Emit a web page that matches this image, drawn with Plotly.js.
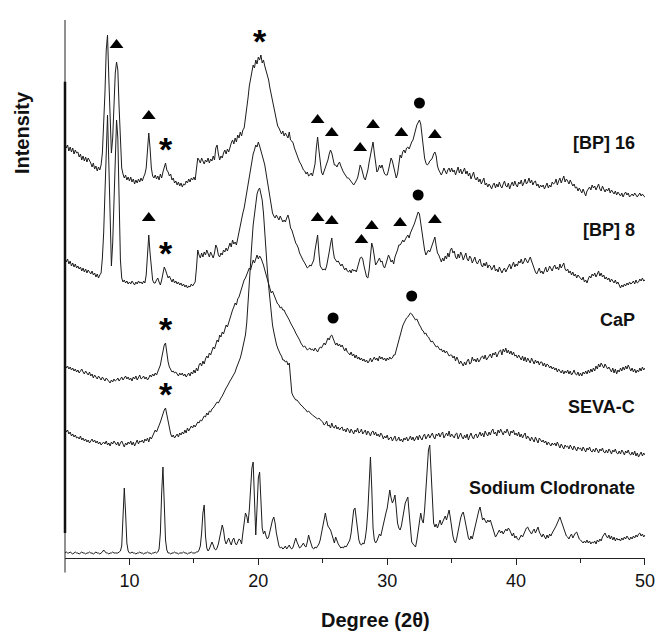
<!DOCTYPE html>
<html>
<head>
<meta charset="utf-8">
<script src="https://cdn.plot.ly/plotly-3.0.1.min.js"></script>
<style>
  html, body { margin: 0; padding: 0; background: #fff; }
  #chart { width: 655px; height: 634px; }
</style>
</head>
<body>
<div id="chart"></div>
<script>
// XRD patterns, 2θ scan from 5° to 50° in 0.1° steps (intensity in a.u.)
const TWO_THETA_START = 5;
const TWO_THETA_STEP = 0.1;

const sampleNames = ['[BP] 16', '[BP] 8', 'CaP', 'SEVA-C', 'Sodium Clodronate'];
// vertical stacking offset of each pattern (a.u.)
const stackOffsets = [360, 270, 175, 100, 0];

const bp16 = [
  55,50,53,47,51,46,50,44,48,45,
  46,41,44,38,42,37,41,36,40,38,
  35,31,35,29,32,27,31,28,33,45,
  70,105,148,163,120,70,45,60,95,125,
  136,128,90,50,30,24,20,23,18,21,
  17,21,16,19,14,18,15,19,16,20,
  17,21,24,30,45,65,50,30,22,20,
  23,19,22,18,24,20,26,30,35,28,
  26,22,24,18,20,15,17,13,16,12,
  15,11,14,13,17,15,19,16,20,18,
  21,18,28,40,38,35,40,37,34,38,
  36,40,35,39,37,42,38,50,53,44,
  38,42,40,45,48,44,49,46,52,55,
  58,54,60,56,63,60,66,62,68,70,
  80,88,100,112,120,126,133,130,138,134,
  141,138,143,135,138,132,128,124,118,110,
  103,96,90,82,75,72,70,66,64,67,
  62,65,63,60,66,58,57,55,50,46,
  43,40,36,34,30,28,27,24,26,22,
  23,25,22,28,34,50,61,48,33,26,
  23,27,30,33,38,44,48,45,38,33,
  33,31,34,36,32,28,26,24,22,20,
  20,18,16,15,13,15,18,20,26,33,
  30,24,20,18,22,28,36,44,50,56,
  45,32,26,28,33,30,33,28,24,23,
  23,28,34,40,37,30,25,20,24,35,
  43,40,46,48,45,50,51,49,53,56,
  58,62,68,73,75,78,74,63,50,40,
  35,33,34,37,38,40,44,46,42,32,
  28,25,23,26,30,27,24,28,30,26,
  30,26,28,23,27,31,25,29,24,27,
  30,24,27,22,25,19,23,26,20,18,
  21,16,19,14,17,20,13,15,11,14,
  12,9,13,15,10,14,11,16,12,10,
  14,17,12,11,15,9,13,16,12,17,
  13,11,16,14,18,12,15,19,14,16,
  20,15,18,13,16,17,12,14,10,13,
  11,13,9,12,15,10,13,11,16,14,
  15,19,13,17,20,15,18,22,16,19,
  17,14,18,15,12,14,10,11,7,10,
  8,5,9,4,2,7,9,11,8,13,
  10,12,8,11,14,9,7,12,9,6,
  9,7,10,5,8,6,4,7,3,6,
  4,2,5,1,4,6,3,5,1,3,
  4,2,5,3,1,3,5,2,4,2,
  1
];

const bp8 = [
  30,26,29,24,27,22,25,21,24,20,
  22,19,21,17,20,16,19,15,18,16,
  14,17,13,15,11,14,10,13,15,30,
  55,95,145,173,125,60,22,45,95,145,
  168,150,88,28,10,6,8,5,7,4,
  6,4,7,5,3,6,4,7,5,6,
  4,7,5,13,30,53,35,16,8,5,
  5,8,10,6,3,8,14,21,18,13,
  10,12,8,6,9,5,7,4,6,3,
  5,2,4,1,3,0,2,1,4,2,
  4,6,20,38,33,30,35,31,36,33,
  38,34,31,36,33,30,35,43,40,33,
  31,35,33,38,36,40,37,42,45,41,
  48,44,46,43,50,55,63,68,75,80,
  88,95,103,112,120,128,134,138,143,141,
  146,142,138,133,128,123,115,108,98,90,
  82,75,72,70,73,70,68,72,69,66,
  68,66,70,73,68,60,58,54,48,45,
  43,40,35,32,30,27,25,22,20,21,
  23,22,25,28,38,48,53,35,22,20,
  18,19,18,22,28,36,44,50,38,30,
  28,26,27,25,22,24,20,18,20,17,
  16,18,15,19,17,18,16,20,24,30,
  31,29,22,15,11,10,18,32,45,40,
  30,23,25,28,30,26,27,22,20,24,
  28,33,30,26,28,24,31,34,38,43,
  43,45,48,46,49,51,53,50,55,58,
  60,64,68,72,76,74,65,55,45,38,
  33,35,38,36,40,44,48,51,42,35,
  33,28,26,30,27,32,29,35,31,38,
  40,35,37,31,29,34,30,36,33,28,
  31,35,29,27,32,30,25,28,31,26,
  24,27,29,23,21,25,22,26,20,23,
  22,18,20,23,17,19,16,21,18,15,
  18,20,16,19,22,24,19,23,26,21,
  24,22,27,25,29,24,26,30,27,25,
  28,31,27,23,19,16,14,17,20,15,
  17,14,19,21,16,18,22,19,17,21,
  23,19,21,18,24,20,22,25,19,17,
  19,15,17,13,16,12,14,10,13,11,
  10,8,11,6,8,5,9,12,10,14,
  12,15,11,14,17,12,15,11,13,9,
  11,8,10,6,9,7,5,8,4,6,
  2,0,3,1,4,2,5,3,6,4,
  5,7,4,8,5,6,9,7,10,7,
  8
];

const cap = [
  18,15,17,14,16,13,15,12,14,11,
  13,10,12,14,11,9,12,10,8,11,
  7,9,5,8,6,4,7,5,3,6,
  4,2,5,3,1,0,3,1,4,2,
  3,5,2,4,6,3,5,7,4,6,
  3,5,2,6,4,7,3,5,8,4,
  5,7,4,6,3,5,8,6,9,7,
  10,8,12,14,18,25,32,38,40,30,
  21,16,13,11,12,10,11,9,7,10,
  8,10,7,9,6,8,10,7,11,9,
  13,10,15,12,18,20,17,22,19,24,
  27,25,30,28,33,36,34,39,43,41,
  48,46,51,49,55,58,56,61,65,70,
  73,76,80,78,84,86,90,95,100,103,
  105,108,112,115,113,118,123,120,125,128,
  124,127,125,122,118,113,108,103,98,95,
  90,92,88,85,82,79,78,75,76,73,
  73,70,68,66,63,60,58,56,53,50,
  48,45,43,40,38,36,37,35,33,34,
  35,33,34,32,35,33,31,34,36,35,
  38,40,38,42,45,43,47,48,45,42,
  38,40,37,39,36,38,34,32,35,31,
  30,28,31,27,29,25,28,24,26,23,
  25,22,24,21,23,20,22,25,21,23,
  26,23,25,22,27,24,26,23,25,22,
  25,23,26,24,25,28,28,33,38,44,
  50,53,57,60,63,65,66,68,70,69,
  67,66,63,64,60,58,56,53,52,49,
  50,47,46,44,41,42,40,38,36,37,
  35,33,34,31,33,30,32,29,27,28,
  28,25,27,22,26,23,19,22,20,17,
  21,18,22,24,19,20,26,22,24,21,
  25,21,23,26,27,24,28,23,25,27,
  29,25,30,28,31,26,29,32,33,28,
  34,31,35,30,33,29,32,28,31,27,
  28,25,28,26,23,27,22,26,21,25,
  23,20,25,22,19,23,20,22,18,21,
  21,17,20,16,19,18,15,17,14,16,
  13,15,11,14,12,10,13,9,12,10,
  13,9,12,8,10,13,9,8,11,7,
  10,7,11,9,12,9,13,10,14,11,
  15,12,17,14,19,16,20,17,15,19,
  17,14,16,13,11,15,10,14,9,13,
  11,15,12,16,13,17,14,18,15,12,
  15,11,14,10,13,11,15,12,16,13,
  15
];

const sevaC = [
  30,26,28,24,26,22,24,21,23,20,
  21,19,22,18,20,17,19,16,18,15,
  17,19,16,18,15,17,14,16,13,15,
  16,14,17,13,15,12,16,14,17,15,
  13,16,12,15,17,14,11,15,13,16,
  14,17,13,16,12,15,18,14,17,16,
  18,15,19,17,20,16,21,19,22,25,
  28,26,29,32,36,40,45,48,50,43,
  35,28,24,21,23,20,22,24,21,25,
  23,26,24,28,25,30,27,29,32,30,
  33,31,34,36,35,38,37,40,42,41,
  45,43,47,46,49,50,52,54,56,55,
  58,60,62,65,67,70,72,75,77,79,
  81,83,86,90,93,97,100,105,112,118,
  123,135,158,180,198,215,233,245,258,264,
  268,270,264,258,245,223,205,188,172,158,
  145,133,126,118,114,110,106,104,102,98,
  98,96,97,93,95,80,65,62,60,58,
  58,56,55,53,52,50,49,48,46,47,
  45,44,43,42,41,40,39,40,38,37,
  36,33,34,37,32,33,30,35,31,30,
  33,29,31,28,30,31,27,29,26,30,
  28,25,29,27,24,28,26,30,25,26,
  29,24,26,28,23,27,25,22,26,27,
  23,26,22,24,21,25,23,19,22,20,
  23,18,20,21,17,19,22,17,18,21,
  17,19,16,20,18,21,17,19,22,18,
  21,17,19,22,18,23,20,18,22,24,
  19,22,24,20,23,25,21,19,24,22,
  25,21,24,26,20,23,25,22,27,21,
  24,22,20,24,25,19,22,25,21,19,
  23,20,24,18,22,25,21,19,23,24,
  20,24,26,22,25,21,27,24,22,26,
  23,27,29,24,26,22,28,25,29,26,
  23,27,25,29,24,22,27,25,28,23,
  25,22,26,21,24,20,23,25,19,22,
  20,17,21,19,16,21,18,15,20,18,
  16,18,15,17,13,16,14,12,15,13,
  15,12,16,13,10,14,12,9,13,11,
  12,9,13,10,8,12,9,7,11,9,
  10,7,11,9,6,10,8,11,7,6,
  9,6,10,8,5,9,7,10,6,5,
  8,5,9,7,4,8,6,9,5,4,
  7,4,8,6,3,7,5,8,4,3,
  6,3,7,2,5,1,4,6,2,5,
  3
];

const clodronate = [
  5,6,5,5,6,5,4,5,6,5,
  5,4,5,6,5,5,4,5,5,6,
  5,5,4,5,6,5,5,4,5,6,
  8,6,5,5,4,5,5,6,5,5,
  5,5,6,7,12,35,70,45,15,7,
  5,5,6,5,5,4,5,5,6,5,
  5,4,5,5,6,5,5,4,5,5,
  6,5,6,9,25,65,91,55,18,8,
  5,5,4,5,5,6,5,5,4,5,
  5,5,6,5,5,4,5,5,6,5,
  5,5,6,6,8,12,25,45,53,22,
  10,7,9,12,16,13,9,8,10,14,
  20,26,33,28,18,14,17,20,16,13,
  18,20,15,13,16,19,18,14,25,38,
  45,42,35,48,72,90,96,50,23,50,
  80,86,60,30,24,27,22,19,21,28,
  35,38,41,35,25,16,12,10,11,9,
  10,12,9,11,13,10,9,11,15,20,
  16,12,10,11,13,15,12,11,16,23,
  18,13,10,9,11,10,12,14,18,25,
  32,40,45,38,32,30,28,24,18,15,
  21,17,14,12,10,11,10,12,11,13,
  15,18,25,38,48,50,40,25,18,14,
  13,15,14,20,30,48,80,101,70,30,
  18,15,17,20,24,22,28,35,42,45,
  50,58,68,60,55,58,63,50,35,30,
  28,32,40,48,55,58,61,45,28,16,
  14,12,11,18,28,38,45,38,35,48,
  70,92,108,113,88,50,35,31,34,30,
  35,38,33,36,40,42,38,45,48,40,
  30,22,17,15,20,28,35,40,44,46,
  40,32,25,20,18,22,19,25,30,35,
  40,47,51,45,38,40,37,35,38,36,
  38,33,28,24,21,23,26,28,25,27,
  24,26,29,27,30,28,24,22,25,20,
  22,19,18,20,23,21,25,27,30,31,
  28,26,24,27,29,25,28,31,26,23,
  21,24,22,19,23,20,24,22,25,27,
  29,32,35,38,41,37,33,29,25,22,
  21,19,22,24,20,23,25,26,22,19,
  18,16,15,17,15,18,15,17,14,16,
  15,17,14,18,16,19,17,21,23,25,
  22,20,23,19,22,18,21,17,20,18,
  19,17,20,18,21,19,22,20,18,21,
  19,22,20,23,21,24,25,22,24,21,
  23
];

const patterns = [bp16, bp8, cap, sevaC, clodronate];

// Phase markers: index of the pattern and 2θ position of the reflection
const trianglePattern = [0, 0, 0, 0, 0, 0, 0, 0, 0, 1, 1, 1, 1, 1, 1, 1];
const triangleTheta   = [8.3, 9.0, 11.5, 24.6, 25.7, 27.9, 28.9, 31.1, 33.7,
                         11.5, 24.6, 25.7, 28.0, 28.8, 31.0, 33.7];
const asteriskPattern = [0, 0, 1, 2, 3];
const asteriskTheta   = [12.8, 20.1, 12.8, 12.8, 12.8];
const circlePattern   = [0, 1, 2, 2];
const circleTheta     = [32.5, 32.4, 25.8, 31.9];

const xTicks = [10, 20, 30, 40, 50];

const FONT = 'Arial, "Liberation Sans", Helvetica, sans-serif';
const INK = '#1c1c1c';

const twoTheta = bp16.map((_, i) => +(TWO_THETA_START + i * TWO_THETA_STEP).toFixed(1));

// top of a pattern near a given 2θ, in stacked units
function peakTop(p, theta) {
  let best = -Infinity;
  twoTheta.forEach((t, i) => {
    if (Math.abs(t - theta) <= 0.2001) best = Math.max(best, patterns[p][i]);
  });
  return stackOffsets[p] + best;
}

const traces = patterns.map((vals, p) => ({
  type: 'scatter',
  mode: 'lines',
  name: sampleNames[p],
  x: twoTheta,
  y: vals.map(v => v + stackOffsets[p]),
  line: { color: INK, width: 1 },
  hoverinfo: 'skip'
}));

const MARK_GAP = 17;
traces.push({
  type: 'scatter', mode: 'markers', cliponaxis: false, hoverinfo: 'skip',
  x: triangleTheta,
  y: triangleTheta.map((t, k) => peakTop(trianglePattern[k], t) + MARK_GAP),
  marker: { symbol: 'triangle-up', size: 12, color: '#000' }
});
traces.push({
  type: 'scatter', mode: 'markers', cliponaxis: false, hoverinfo: 'skip',
  x: circleTheta,
  y: circleTheta.map((t, k) => peakTop(circlePattern[k], t) + MARK_GAP),
  marker: { symbol: 'circle', size: 11, color: '#000' }
});
traces.push({
  type: 'scatter', mode: 'text', cliponaxis: false, hoverinfo: 'skip',
  x: asteriskTheta,
  y: asteriskTheta.map((t, k) => peakTop(asteriskPattern[k], t) + MARK_GAP - 6),
  text: asteriskTheta.map(() => '*'),
  textposition: 'middle center',
  textfont: { family: FONT, size: 34, color: '#000', weight: 'bold' }
});

// sample labels at the right end of each pattern
const labelY = [415, 328, 238, 151, 70];
const annotations = sampleNames.map((name, p) => ({
  xref: 'paper', yref: 'y', x: 0.986, y: labelY[p],
  xanchor: 'right', yanchor: 'middle', showarrow: false,
  text: '<b>' + name + '</b>',
  font: { family: FONT, size: 18, color: '#111' }
}));
annotations.push({
  xref: 'paper', yref: 'y', x: -0.074, y: 425,
  xanchor: 'center', yanchor: 'middle', showarrow: false, textangle: -90,
  text: '<b>Intensity</b>',
  font: { family: FONT, size: 20, color: '#111' }
});
annotations.push({
  xref: 'paper', yref: 'paper', x: 0.535, y: -0.115,
  xanchor: 'center', yanchor: 'middle', showarrow: false,
  text: '<b>Degree (2θ)</b>',
  font: { family: FONT, size: 20, color: '#111' }
});

const layout = {
  width: 655, height: 634,
  margin: { l: 65, r: 10, t: 20, b: 76 },
  paper_bgcolor: '#fff', plot_bgcolor: '#fff',
  showlegend: false,
  xaxis: {
    range: [5, 50.001], showgrid: false, zeroline: false,
    showline: true, linecolor: '#222', linewidth: 1,
    ticks: 'outside', ticklen: 6, tickwidth: 1, tickcolor: '#222',
    tickmode: 'array', tickvals: xTicks, ticktext: xTicks.map(String),
    ticklabeloverflow: 'allow',
    minor: { tickvals: [15, 25, 35, 45], ticks: 'outside', ticklen: 4, tickwidth: 1, tickcolor: '#222' },
    tickfont: { family: FONT, size: 18, color: '#111' }
  },
  yaxis: {
    range: [0, 538], visible: false, showgrid: false, zeroline: false
  },
  shapes: [
    { type: 'line', xref: 'paper', yref: 'paper', x0: 0, x1: 0, y0: -0.027, y1: 1.0,
      line: { color: '#222', width: 1 } },
    { type: 'line', xref: 'paper', yref: 'paper', x0: 0, x1: 0, y0: 0.0465, y1: 0.885,
      line: { color: '#111', width: 2.5 } }
  ],
  annotations: annotations
};

Plotly.newPlot('chart', traces, layout, { staticPlot: true, displayModeBar: false });
</script>
</body>
</html>
